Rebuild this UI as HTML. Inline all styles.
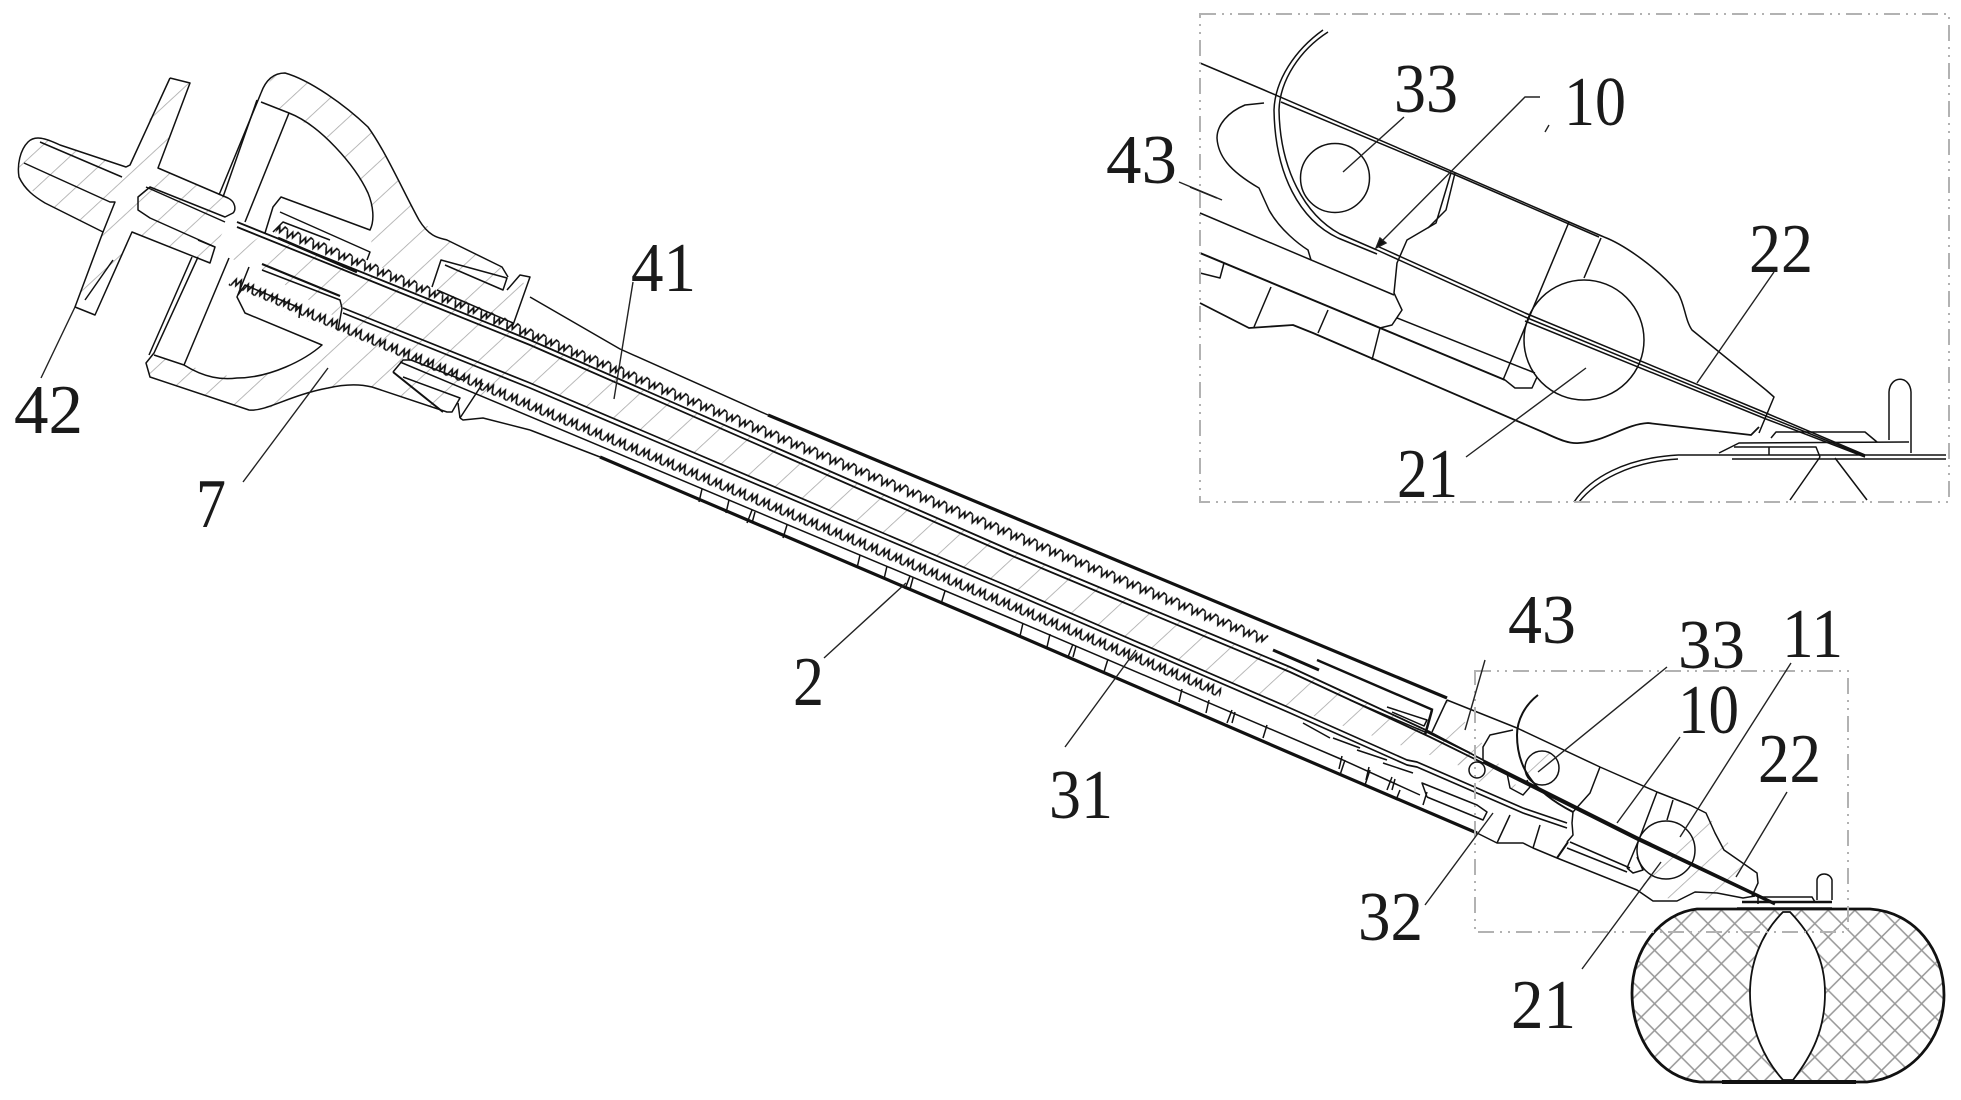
<!DOCTYPE html>
<html><head><meta charset="utf-8"><title>Diagram</title>
<style>
html,body{margin:0;padding:0;background:#fff}
svg{display:block}
text{font-family:"Liberation Serif","Noto Serif CJK SC",serif;font-size:70px;fill:#1a1a1a;stroke:none}
</style></head><body>
<svg xmlns="http://www.w3.org/2000/svg" width="1961" height="1100" viewBox="0 0 1961 1100">
<defs>
<pattern id="h" patternUnits="userSpaceOnUse" width="26.7" height="12" patternTransform="translate(883,532) rotate(47.3)">
<path d="M0 0V12" stroke="#a8a8a8" stroke-width="1.6"/>
</pattern>
<pattern id="x" patternUnits="userSpaceOnUse" width="26.7" height="26.7" patternTransform="translate(1708,977)">
<path d="M0 0L26.7 26.7M26.7 0L0 26.7" stroke="#999" stroke-width="1.5" fill="none"/>
</pattern>
<pattern id="z1" patternUnits="userSpaceOnUse" width="14" height="14" patternTransform="translate(0,10)">
<path d="M0 3L3 11L6 4L8 9L11 2L14 3" stroke="#111" stroke-width="1.7" fill="none"/>
</pattern>
<pattern id="z2" patternUnits="userSpaceOnUse" width="13" height="14" patternTransform="translate(0,76)">
<path d="M0 11L3 3L5 9L8 2L10 10L13 11" stroke="#111" stroke-width="1.7" fill="none"/>
</pattern>
<g id="lad" fill="none" stroke="#111" stroke-width="1.5">
<path d="M0 0L-3 13M27 11L24 24M50 21L45 34M53 23L50 34M85 36L81 49"/>
</g>
</defs>
<rect width="1961" height="1100" fill="#fff"/>

<!-- hatching -->
<g stroke="none" fill="url(#h)">
<polygon points="261,93 273,77 285,73 324,90 368,127 395,173 419,220 447,240 502,267 520,275 530,297 513,325 450,300 370,262 373,217 368,193 336,143 289,113 261,102"/>
<polygon points="265,233 530,340 1010,550 1290,667 1430,732 1480,760 1480,772 1290,708 1010,587 530,383 460,400 447,412 372,387 328,388 269,408 249,410 150,377 146,363 154,355 184,365 237,378 285,370 322,345 340,320 262,270 229,258"/>
<polygon points="40,138 126,167 170,78 190,83 158,168 233,200 233,213 215,247 210,263 132,232 95,315 75,307 103,232 40,200 18,173 24,147"/>
<polygon points="1640,890 1690,805 1706,813 1758,883 1743,898 1677,901"/>
<polygon points="1447,700 1520,790 1470,780 1430,732"/>
<circle cx="1542" cy="768" r="17"/>
</g>

<!-- main shaft -->
<g fill="none" stroke="#111" stroke-width="1.5" stroke-linejoin="round">
<polyline points="530,297 620,349 768,415"/>
<line x1="768" y1="415" x2="1447" y2="698" stroke-width="3.2"/>
<polyline points="1447,700 1517,728 1600,767 1657,792 1690,805 1706,813 1715,833 1724,850 1757,873 1758,883 1752,896"/>
<line x1="1273" y1="650" x2="1319" y2="670" stroke-width="3"/>
<line x1="1317" y1="660" x2="1433" y2="710" stroke-width="2.4"/>
<polyline points="237,222 530,340 1010,550 1290,667 1430,732 1483,760 1637,837 1775,903" stroke-width="1.8"/>
<polyline points="237,227 530,345 1010,555 1290,672 1430,737 1483,763" stroke-width="1.8"/>
<polyline points="1483,762 1637,839 1775,904" stroke-width="3"/>
<polyline points="343,308 530,383 1010,587 1290,708 1407,760 1417,762 1523,808 1567,823" stroke-width="1.7"/>
<polyline points="343,313 530,388 1010,592 1290,713 1407,765 1417,767 1523,813 1567,828" stroke-width="1.7"/>
<polyline points="400,362 1010,618 1343,760 1420,795"/>
<polyline points="530,430 600,457"/>
<polyline points="600,457 1010,632 1290,753 1477,833" stroke-width="3.2"/>
<polyline points="1477,833 1497,843 1523,843 1533,848 1557,858 1637,890 1653,901 1677,901 1695,892 1717,893 1743,898 1755,896"/>
</g>

<!-- zig-zag bands -->
<g transform="translate(900,470) rotate(22.6)">
<rect x="-668" y="10" width="1072" height="14" fill="url(#z1)"/>
<rect x="-691" y="76" width="1073" height="14" fill="url(#z2)"/>
</g>

<use href="#lad" transform="translate(702,489)"/>
<use href="#lad" transform="translate(860,555)"/>
<use href="#lad" transform="translate(1023,623)"/>
<use href="#lad" transform="translate(1182,689)"/>
<use href="#lad" transform="translate(1342,756)"/>

<!-- handle -->
<g fill="none" stroke="#111" stroke-width="1.5" stroke-linejoin="round">
<path d="M170 78L130 165L126 167L60 145C45 138 35 135 28 142C20 150 17 165 19 177C25 190 35 197 45 203L103 232L75 307L95 315L132 232L210 263L215 247L198 240"/>
<path d="M170 78L190 83L158 168L228 198C236 202 236 210 233 213L225 217L150 187L138 197L138 210L150 218L215 247"/>
<polyline points="40,142 122,177"/><polyline points="24,163 110,202 115,202 103,232"/>
<polyline points="146,187 225,222"/><polyline points="113,260 85,300"/>
<path d="M261 93C265 82 272 73 285 73C310 80 345 105 368 127C385 150 405 195 419 220C430 238 440 238 447 240L502 267L508 277"/>
<path d="M261 102L289 113C320 125 355 165 368 193C373 205 375 220 370 230L281 197L273 207L265 233"/>
<polyline points="261,93 219,195"/><polyline points="257,100 223,197"/>
<polyline points="289,113 245,222"/>
<path d="M198 257L154 353L146 363L150 377L249 410C265 412 290 395 328 388C345 384 360 384 372 387L447 412L452 412L460 398L403 377"/>
<polyline points="192,257 149,355"/>
<polyline points="229,258 184,365"/>
<path d="M154 355L184 365C205 378 222 380 237 378C270 378 305 360 322 345L245 313L237 297L249 267"/>
<polyline points="280,212 370,252 367,260"/>
<polyline points="273,232 283,222 330,240"/>
<polyline points="278,238 357,272" stroke-width="2.6"/>
<polyline points="262,270 340,300 342,308 338,330"/>
<polyline points="238,295 245,285 300,308"/>
<polyline points="262,264 340,296" stroke-width="2.2"/>
<polyline points="300,308 299,318"/>
<polyline points="432,287 441,260 507,278 503,290 445,265"/>
<polyline points="437,290 513,323"/>
<polyline points="507,290 520,275 530,277 513,325"/>
<polyline points="393,372 403,360 411,360 463,380"/>
<polyline points="393,372 443,412" stroke-width="2"/>
<polyline points="460,418 463,420 483,418 530,430"/>
<polyline points="460,418 483,383"/>
<polyline points="458,403 460,418"/>
</g>

<!-- tip region -->
<g fill="none" stroke="#111" stroke-width="1.5" stroke-linejoin="round">
<polyline points="1513,730 1490,735 1483,747 1483,760"/>
<circle cx="1477" cy="770" r="8"/>
<circle cx="1542" cy="768" r="17"/>
<circle cx="1666" cy="850" r="29"/>
<path d="M1538 695C1525 705 1517 720 1517 735C1517 765 1530 790 1573 812" stroke-width="2"/>
<polyline points="1507,773 1510,788 1523,795 1530,787 1527,780"/>
<polyline points="1600,767 1590,793 1573,812 1572,823 1573,835 1567,842"/>
<polyline points="1657,792 1640,837 1627,868"/>
<polyline points="1673,800 1667,820"/>
<polyline points="1570,842 1630,868"/><polyline points="1567,848 1627,872"/>
<polyline points="1627,868 1633,873 1643,870 1637,857"/>
<polyline points="1427,732 1470,753" stroke-width="2"/>
<polyline points="1427,797 1422,783 1477,805 1487,812 1483,820 1427,797"/>
<polyline points="1432,710 1425,735" stroke-width="2.5"/>
<polyline points="1447,700 1432,732"/>
<polyline points="1497,843 1510,815"/><polyline points="1533,848 1540,825"/>
<polyline points="1557,858 1568,842" stroke-width="2"/>
<polyline points="1387,707 1427,720 1424,726 1392,712"/>
<polyline points="1350,700 1425,732"/>
<polyline points="1303,723 1330,738"/><polyline points="1333,738 1360,748"/><polyline points="1357,750 1387,760"/><polyline points="1383,763 1413,773"/>
<polyline points="1345,760 1340,775"/><polyline points="1370,770 1365,785"/><polyline points="1400,790 1396,800"/>
</g>

<!-- balloon -->
<path d="M1697 909L1870 909C1915 912 1944 950 1944 995C1944 1040 1910 1078 1867 1082L1700 1082C1660 1078 1632 1040 1632 993C1632 950 1660 913 1697 909Z" fill="url(#x)" stroke="#111" stroke-width="2.8"/>
<path d="M1783 912C1760 935 1750 965 1750 993C1750 1030 1765 1060 1783 1080L1793 1080C1812 1055 1825 1030 1825 993C1825 960 1812 935 1790 912Z" fill="#fff" stroke="#111" stroke-width="1.8"/>
<g fill="none" stroke="#111" stroke-width="1.5">
<path d="M1817 900L1817 880C1818 872 1830 872 1832 880L1832 900"/>
<polyline points="1737,908 1832,908"/><polyline points="1742,902 1832,902" stroke-width="2.4"/>
<polyline points="1758,904 1758,897 1812,897 1815,902"/>
<line x1="1722" y1="1082" x2="1856" y2="1082" stroke-width="4"/>
</g>

<!-- inset contents -->
<g fill="none" stroke="#111" stroke-width="1.5" stroke-linejoin="round">
<polyline points="1200,63 1264,90 1569,222 1604,237"/>
<polyline points="1281,102 1451,173 1599,237"/>
<path d="M1328 32C1300 50 1280 80 1279 110C1280 170 1305 215 1340 234L1377 250"/>
<path d="M1323 30C1295 50 1275 80 1274 110C1275 175 1300 220 1338 238L1377 254"/>
<polyline points="1377,246 1525,313 1766,413 1865,455"/>
<polyline points="1377,250 1525,317 1766,416 1865,456"/>
<polyline points="1525,321 1766,419 1865,457"/>
<path d="M1264 103L1245 105C1228 112 1217 125 1217 138C1218 155 1228 170 1259 188L1269 210C1280 230 1300 245 1308 250L1311 260"/>
<circle cx="1335" cy="178" r="34.5"/>
<circle cx="1584" cy="340" r="60"/>
<polyline points="1451,173 1436,223 1407,240 1397,263 1394,293 1402,310 1392,325 1380,328 1372,360"/>
<polyline points="1455,173 1446,210 1428,228"/>
<polyline points="1569,222 1503,380"/>
<polyline points="1601,238 1584,278"/>
<polyline points="1200,213 1394,295"/>
<polyline points="1397,318 1535,373"/>
<polyline points="1200,253 1505,380" stroke-width="2"/>
<polyline points="1505,380 1515,388 1532,388 1537,377"/>
<path d="M1604 237C1625 245 1660 270 1678 293C1685 305 1685 320 1692 330L1766 390L1774 397L1759 433"/>
<path d="M1200 303L1249 328L1293 325L1313 333L1545 433C1560 440 1570 444 1579 443C1605 442 1625 424 1648 423L1751 435L1759 427" stroke-width="1.8"/>
<polyline points="1271,287 1254,327"/><polyline points="1328,310 1318,333"/>
<polyline points="1190,187 1217,198"/><polyline points="1200,273 1220,278 1224,263"/>
<polyline points="1678,455 1946,455"/><polyline points="1732,459 1946,459"/>
<path d="M1574 502C1590 478 1625 458 1678 455"/><path d="M1579 502C1595 482 1628 462 1678 459"/>
<polyline points="1719,453 1739,443 1909,442"/>
<polyline points="1771,438 1776,432 1865,432 1877,442"/>
<path d="M1889 440L1889 392C1890 375 1910 375 1911 392L1911 453"/>
<polyline points="1734,447 1816,447 1820,457"/><polyline points="1769,447 1769,455"/>
<polyline points="1820,457 1790,500"/><polyline points="1835,458 1867,500"/>
</g>

<!-- dash dot frames -->
<g fill="none" stroke="#b2b2b2" stroke-width="2" stroke-dasharray="16 6 2 6 2 6">
<rect x="1200" y="14" width="749" height="488"/>
<rect x="1475" y="671" width="373" height="261"/>
</g>

<!-- leaders -->
<g fill="none" stroke="#222" stroke-width="1.4">
<line x1="41" y1="378" x2="75" y2="307"/>
<line x1="243" y1="482" x2="328" y2="368"/>
<line x1="633" y1="282" x2="614" y2="399"/>
<line x1="824" y1="658" x2="906" y2="583"/>
<line x1="1065" y1="747" x2="1136" y2="650"/>
<line x1="1485" y1="660" x2="1465" y2="730"/>
<line x1="1667" y1="667" x2="1538" y2="772"/>
<line x1="1791" y1="663" x2="1680" y2="837"/>
<line x1="1680" y1="737" x2="1617" y2="823"/>
<line x1="1787" y1="792" x2="1736" y2="877"/>
<line x1="1582" y1="969" x2="1661" y2="862"/>
<line x1="1425" y1="905" x2="1493" y2="813"/>
<line x1="1404" y1="117" x2="1343" y2="172"/>
<polyline points="1540,97 1525,97 1380,243"/>
<polygon points="1376,248 1380,238 1386,243" fill="#111"/>
<line x1="1549" y1="125" x2="1545" y2="132"/>
<line x1="1774" y1="272" x2="1697" y2="383"/>
<line x1="1466" y1="457" x2="1586" y2="368"/>
<line x1="1179" y1="182" x2="1222" y2="200"/>
</g>

<!-- labels -->
<text x="14" y="433" textLength="69" lengthAdjust="spacingAndGlyphs">42</text>
<text x="196" y="527" textLength="30" lengthAdjust="spacingAndGlyphs">7</text>
<text x="631" y="291" textLength="65" lengthAdjust="spacingAndGlyphs">41</text>
<text x="793" y="705" textLength="31" lengthAdjust="spacingAndGlyphs">2</text>
<text x="1049" y="818" textLength="64" lengthAdjust="spacingAndGlyphs">31</text>
<text x="1508" y="643" textLength="68" lengthAdjust="spacingAndGlyphs">43</text>
<text x="1678" y="668" textLength="67" lengthAdjust="spacingAndGlyphs">33</text>
<text x="1782" y="657" textLength="61" lengthAdjust="spacingAndGlyphs">11</text>
<text x="1678" y="733" textLength="61" lengthAdjust="spacingAndGlyphs">10</text>
<text x="1758" y="782" textLength="63" lengthAdjust="spacingAndGlyphs">22</text>
<text x="1511" y="1028" textLength="65" lengthAdjust="spacingAndGlyphs">21</text>
<text x="1358" y="940" textLength="65" lengthAdjust="spacingAndGlyphs">32</text>
<text x="1394" y="112" textLength="64" lengthAdjust="spacingAndGlyphs">33</text>
<text x="1564" y="125" textLength="62" lengthAdjust="spacingAndGlyphs">10</text>
<text x="1749" y="272" textLength="64" lengthAdjust="spacingAndGlyphs">22</text>
<text x="1397" y="497" textLength="61" lengthAdjust="spacingAndGlyphs">21</text>
<text x="1106" y="183" textLength="71" lengthAdjust="spacingAndGlyphs">43</text>
</svg>
</body></html>
